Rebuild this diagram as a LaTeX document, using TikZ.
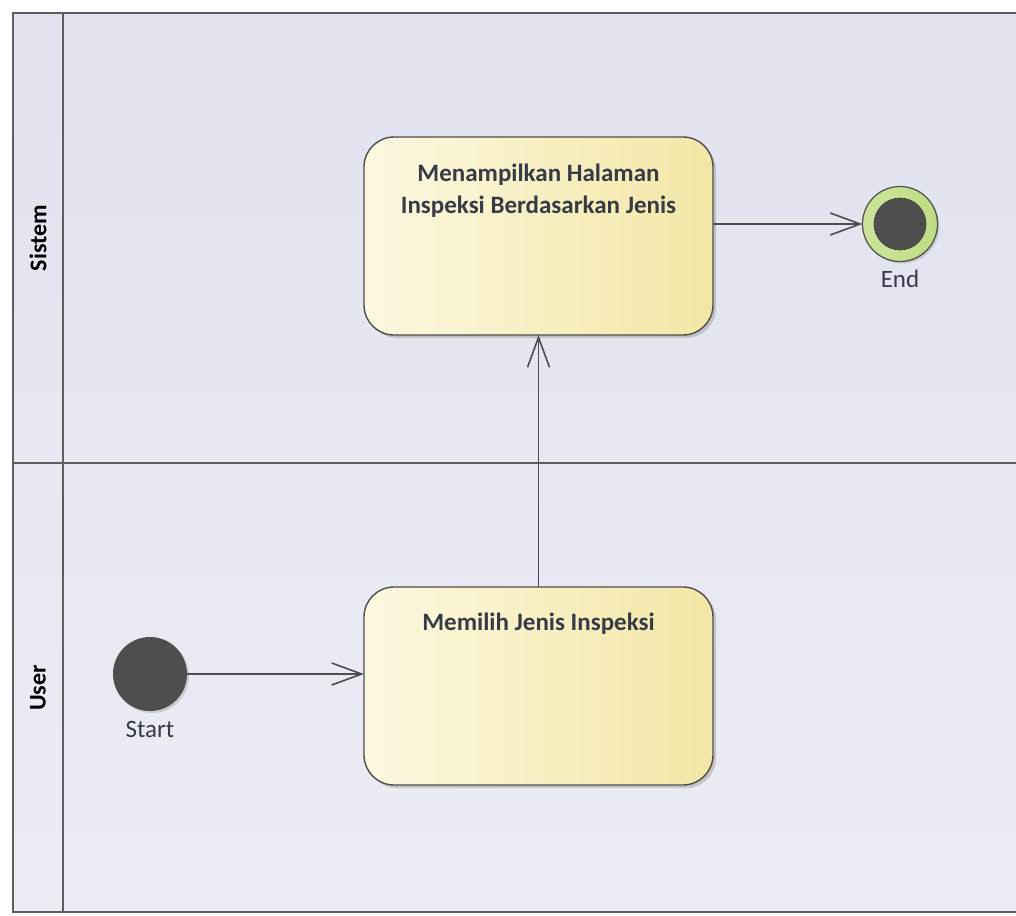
\documentclass[tikz,border=0pt]{standalone}
\usepackage{fontspec}
\setmainfont{Carlito}
\usetikzlibrary{arrows.meta,shadows}
\definecolor{lanebg}{HTML}{E0E2EE}
\definecolor{lanebg2}{HTML}{ECEDF4}
\definecolor{laneline}{HTML}{5E5E5E}
\definecolor{boxL}{HTML}{FCF8E0}
\definecolor{boxR}{HTML}{F3E7A6}
\definecolor{nodedark}{HTML}{4E4E4E}
\definecolor{endgreen}{HTML}{BEDE82}
\definecolor{txt}{HTML}{363B48}
\tikzset{
  every node/.style={inner sep=0pt, outer sep=0pt},
  lane/.style={draw=laneline, line width=2.8pt},
  actbox/.style={draw=nodedark, line width=1.4pt, rounded corners=30pt,
    left color=boxL, right color=boxR, shading angle=90,
    minimum width=349pt, minimum height=198pt,
    drop shadow={shadow xshift=3pt, shadow yshift=-3pt, opacity=0.35, fill=gray}},
  acttext/.style={font=\fontsize{25}{32}\selectfont\bfseries, text=txt, align=center},
  flow/.style={draw=nodedark, line width=1.6pt, -{Straight Barb[length=30pt,width=22pt,line width=1.6pt]}},
  lbl/.style={font=\fontsize{25}{28}\selectfont, text=txt},
  lanelbl/.style={font=\fontsize{24}{28}\selectfont\bfseries, text=black, rotate=90}
}
\begin{document}
\begin{tikzpicture}[x=1pt,y=-1pt]
\useasboundingbox (0,0) rectangle (1016,915);
\fill[white!96!lanebg] (0,0) rectangle (1016,915);
\shade[top color=lanebg, bottom color=lanebg2] (13,13) rectangle (1016,912);
% lanes
\draw[lane] (1016,13) -- (13,13) -- (13,912) -- (1016,912);
\draw[lane] (63,13) -- (63,912);
\draw[lane] (13,463) -- (1016,463);
\node[lanelbl] (lsys) at (38,238) {Sistem};
\node[lanelbl] (lusr) at (38,688) {User};
% activities
\node[actbox] (a1) at (538.5,236) {};
\node[acttext, anchor=north] (t1) at (538.5,164) {Menampilkan Halaman\\Inspeksi Berdasarkan Jenis};
\node[actbox] (a2) at (538.5,686) {};
\node[acttext, anchor=north] (t2) at (538.5,613) {Memilih Jenis Inspeksi};
% start
\node[circle, fill=nodedark, minimum size=74pt,
  drop shadow={shadow xshift=2pt, shadow yshift=-2pt, opacity=0.3, fill=gray}] (start) at (150,674) {};
\node[lbl] (slbl) at (150,729) {Start};
% end
\node[circle, draw=nodedark, line width=1.2pt, left color=endgreen!80!white, right color=endgreen, minimum size=75pt,
  drop shadow={shadow xshift=2pt, shadow yshift=-2pt, opacity=0.3, fill=gray}] (end) at (900,224) {};
\node[circle, fill=nodedark, draw=nodedark!80!black, line width=0.6pt, minimum size=52pt] (endin) at (900,224) {};
\node[lbl] (elbl) at (900,279) {End};
% flows
\draw[flow] (start.east) -- (a2.west |- start.east);
\draw[flow] (a2.north) -- (a1.south);
\draw[flow] (a1.east |- end.west) -- (end.west);
\end{tikzpicture}
\end{document}
